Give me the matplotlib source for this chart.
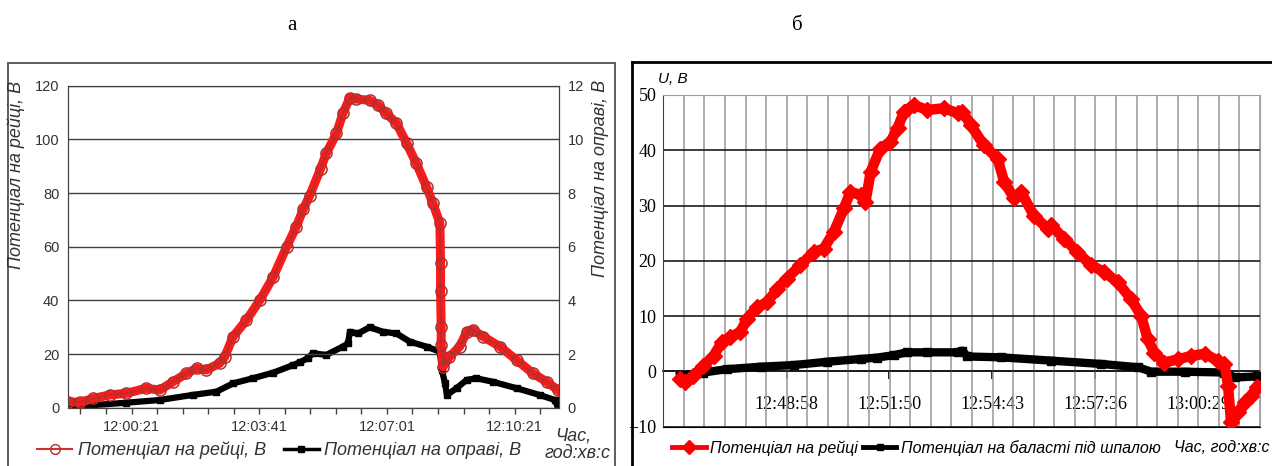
import matplotlib
matplotlib.use('Agg')
import matplotlib.pyplot as plt
from matplotlib.lines import Line2D
from matplotlib.patches import Rectangle
from matplotlib.ticker import FixedLocator

plt.rcParams['font.family'] = ['Liberation Sans', 'DejaVu Sans']

# ---------- panel "а": time in seconds after 12:00:00 ----------
rail_a_t = [-78, -60, -39, -13, 13, 44, 65, 86, 107, 123, 138, 159, 167, 180, 201, 222,
            243, 264, 279, 290, 300, 317, 326, 342, 352, 363, 373, 394, 407, 420, 436,
            452, 467, 483, 493, 504, 505, 505, 506, 506, 509, 519, 535, 546, 556, 572,
            598, 624, 650, 671, 689]
rail_a_v = [2.3, 2.0, 3.5, 4.8, 5.4, 7.3, 6.6, 9.7, 12.8, 14.7, 14.1, 16.6, 19.0, 26.5,
            32.7, 40.1, 48.8, 60.0, 67.5, 74.0, 79.0, 89.0, 94.8, 102.2, 109.7, 115.5,
            115.0, 114.6, 112.8, 109.7, 106.0, 98.5, 91.1, 82.3, 76.2, 68.7, 54.0, 43.6,
            30.2, 23.4, 15.3, 19.0, 22.8, 28.3, 29.0, 26.5, 22.8, 17.8, 12.8, 9.7, 6.6]
frame_a_t = [-78, -39, 13, 65, 117, 154, 180, 211, 243, 274, 285, 297, 305, 326, 352,
             360, 363, 376, 394, 415, 436, 457, 483, 504, 507, 512, 515, 530, 546, 561,
             587, 624, 660, 684, 689]
frame_a_v = [0.1, 0.1, 0.19, 0.29, 0.48, 0.60, 0.91, 1.10, 1.31, 1.59, 1.70, 1.85, 2.03,
             1.97, 2.28, 2.40, 2.83, 2.77, 3.00, 2.83, 2.77, 2.46, 2.28, 2.09, 1.41, 0.91,
             0.48, 0.73, 1.04, 1.10, 0.97, 0.73, 0.48, 0.29, 0.0]
ticks_a = [21, 221, 421, 621]
labels_a = ['12:00:21', '12:03:41', '12:07:01', '12:10:21']

# ---------- panel "б": time in seconds after 12:45:00 ----------
rail_b_t = [59, 67, 81, 98, 115, 129, 143, 160, 171, 188, 205, 222, 238, 261, 283, 300,
            317, 334, 345, 362, 370, 379, 395, 412, 424, 435, 451, 474, 502, 525, 533,
            547, 569, 592, 603, 620, 631, 653, 676, 682, 704, 726, 749, 771, 794, 816,
            833, 844, 855, 872, 895, 917, 940, 962, 973, 979, 984, 996, 1007, 1018, 1027]
rail_b_v = [-1.4, -2.0, -0.8, 1.0, 2.8, 5.3, 6.2, 7.1, 9.5, 11.6, 12.5, 14.9, 16.8, 19.2,
            21.6, 22.2, 25.2, 29.5, 32.5, 31.9, 30.6, 36.1, 40.3, 41.5, 44.0, 47.0, 48.2,
            47.3, 47.6, 46.7, 47.0, 44.6, 40.9, 38.5, 34.3, 31.3, 32.5, 28.2, 25.8, 26.4,
            24.0, 21.6, 19.2, 18.0, 16.1, 13.1, 10.1, 5.9, 3.4, 1.6, 2.2, 2.8, 3.2, 1.9,
            1.3, -2.6, -9.2, -7.4, -5.6, -4.4, -2.9]
ballast_b_t = [59, 98, 137, 194, 250, 306, 362, 390, 418, 440, 474, 525, 533, 541, 597,
               682, 766, 828, 850, 906, 973, 990, 1027]
ballast_b_v = [-0.8, -0.2, 0.4, 0.85, 1.15, 1.75, 2.25, 2.5, 2.95, 3.45, 3.45, 3.45, 3.75,
               2.7, 2.55, 1.95, 1.35, 0.75, -0.05, -0.05, -0.2, -1.1, -0.9]
ticks_b = [238, 410, 583, 756, 929]
labels_b = ['12:48:58', '12:51:50', '12:54:43', '12:57:36', '13:00:29']

W, H = 1272, 466
fig = plt.figure(figsize=(W / 100, H / 100), dpi=100)

def fx(px):
    return px / W

def fy(py):
    return 1 - py / H

serif = 'Liberation Serif'
fig.text(fx(292), fy(25), 'а', family=serif, fontsize=15, ha='center', va='center')
fig.text(fx(797), fy(25), 'б', family=serif, fontsize=15, ha='center', va='center')

# outer frames
fig.add_artist(Rectangle((fx(8.3), -0.05), fx(615 - 8.3), fy(63.3) + 0.05,
                         transform=fig.transFigure, fill=False, ec='#505050', lw=1.3))
fig.add_artist(Line2D([fx(631.7), fx(631.7)], [-0.02, fy(62.3)],
                      transform=fig.transFigure, color='black', lw=2))
fig.add_artist(Line2D([fx(631.7), 1.01], [fy(62.3), fy(62.3)],
                      transform=fig.transFigure, color='black', lw=2))

# ================= panel а =================
ax = fig.add_axes([fx(67.7), fy(407.8), fx(559.3 - 67.7), (407.8 - 85.7) / H])
ax2 = ax.twinx()
ax.set_zorder(ax2.get_zorder() + 1)
ax.patch.set_visible(False)

ax2.plot(frame_a_t, frame_a_v, color='black', lw=4.5, marker='s', ms=5,
         label='Потенціал на оправі, В')
ax.plot(rail_a_t, rail_a_v, color='#ff1a1a', lw=6.5, zorder=2)
ax.plot(rail_a_t, rail_a_v, color='#b5302a', lw=1.2, marker='o', ms=8, mfc='none',
        mec='#a83232', mew=1.1, zorder=3, label='Потенціал на рейці, В')

ax.set_xlim(-79, 691)
ax.set_ylim(0, 120)
ax2.set_ylim(0, 12)
ax.set_yticks(range(0, 121, 20))
ax2.set_yticks(range(0, 13, 2))
ax.yaxis.grid(True, color='#404040', lw=1)
ax.set_axisbelow(True)
ax.xaxis.set_major_locator(FixedLocator(ticks_a))
ax.set_xticklabels(labels_a)
minor_a = [ticks_a[0] - 80 + 40 * k for k in range(19)]
ax.xaxis.set_minor_locator(FixedLocator(minor_a))
ax.tick_params(axis='x', which='both', direction='out', length=4, width=1,
               color='#404040', pad=5, labelsize=10.5, labelcolor='#333333')
ax.tick_params(axis='y', length=0, pad=6, labelsize=10.5, labelcolor='#333333')
ax2.tick_params(axis='y', length=0, pad=6, labelsize=10.5, labelcolor='#333333')
for a in (ax, ax2):
    for s in a.spines.values():
        s.set_color('#404040')

ax.set_ylabel('Потенціал на рейці, В', fontsize=13, style='italic', color='#333333')
ax.yaxis.set_label_coords(-0.087, 0.724)
ax2.set_ylabel('Потенціал на оправі, В', fontsize=13, style='italic', color='#333333',
               rotation=90)
ax2.yaxis.set_label_coords(1.0665, 0.713)

ha_list = [Line2D([], [], color='#d03030', lw=1.5, marker='o', ms=7, mfc='none',
                  mec='#a83232'),
           Line2D([], [], color='black', lw=2.5, marker='s', ms=5)]
fig.legend(ha_list, ['Потенціал на рейці, В', 'Потенціал на оправі, В'],
           loc='center left', bbox_to_anchor=(fx(37), fy(450)), ncol=2, frameon=False,
           prop={'size': 13, 'style': 'italic'}, labelcolor='#333333',
           handlelength=1.95, handletextpad=0.3, columnspacing=1.0, borderpad=0,
           borderaxespad=0)
fig.text(fx(573), fy(436), 'Час,', fontsize=13, style='italic', color='#333333',
         ha='center', va='center')
fig.text(fx(578), fy(453), 'год:хв:с', fontsize=13, style='italic', color='#333333',
         ha='center', va='center')

# ================= panel б =================
bx = fig.add_axes([fx(663.3), fy(426.7), fx(1260 - 663.3), (426.7 - 95) / H])
step = (ticks_b[-1] - ticks_b[0]) / 20
x0 = ticks_b[0] - 6 * step
bx.set_xlim(x0, x0 + 29 * step)
bx.set_ylim(-10, 50)
bx.set_yticks(range(-10, 51, 10))
bx.xaxis.set_major_locator(FixedLocator([x0 + step * k for k in range(30)]))
bx.xaxis.grid(True, color='#a0a0a0', lw=1.2)
bx.yaxis.grid(True, color='#1a1a1a', lw=1.2)
bx.set_axisbelow(True)
bx.tick_params(axis='x', length=0, labelbottom=False)
bx.tick_params(axis='y', length=0, pad=5, labelsize=13)
for lab in bx.get_yticklabels():
    lab.set_family(serif)
bx.spines['top'].set_color('#a0a0a0')
bx.spines['right'].set_color('#a0a0a0')
bx.spines['left'].set_color('#404040')
bx.spines['bottom'].set_color('black')

sec = bx.secondary_xaxis(1 / 6)
sec.set_xticks(ticks_b)
sec.set_xticklabels(labels_b)
sec.spines['bottom'].set_color('black')
sec.spines['bottom'].set_linewidth(1.2)
sec.tick_params(axis='x', direction='out', length=6, width=1.2, pad=12, labelsize=13)
for lab in sec.get_xticklabels():
    lab.set_family(serif)

bx.plot(ballast_b_t, ballast_b_v, color='black', lw=6, marker='s', ms=6, zorder=3)
bx.plot(rail_b_t, rail_b_v, color='#ff0000', lw=7.5, marker='D', ms=8, zorder=4)

fig.text(fx(673), fy(79), 'U, В', fontsize=11, style='italic', ha='center', va='center')

hb_list = [Line2D([], [], color='#ff0000', lw=3.5, marker='D', ms=7),
           Line2D([], [], color='black', lw=3.5, marker='s', ms=5)]
fig.legend(hb_list, ['Потенціал на рейці', 'Потенціал на баласті під шпалою'],
           loc='center left', bbox_to_anchor=(fx(672), fy(448)), ncol=2, frameon=False,
           prop={'size': 11.5, 'style': 'italic'}, handlelength=2.1,
           handletextpad=0.3, columnspacing=0.3, borderpad=0, borderaxespad=0)
fig.text(fx(1269), fy(448), 'Час, год:хв:с', fontsize=11.5, style='italic',
         ha='right', va='center')

fig.savefig('out.png', dpi=100)
